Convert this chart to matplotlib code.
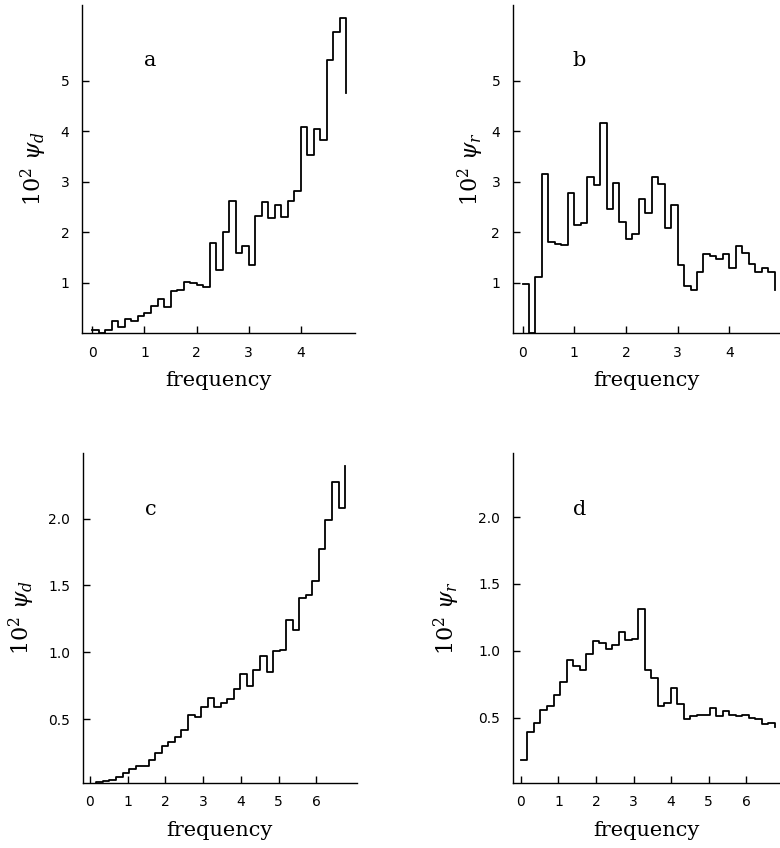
import numpy as np
import matplotlib
matplotlib.use("Agg")
import matplotlib.pyplot as plt

plt.rcParams['mathtext.fontset'] = 'dejavuserif'

# bin widths (39 bins in every panel)
width_ab = 0.125
width_cd = 0.1734

# panel a: 10^2 psi_d (last value = end of the closing vertical)
psi_d_a = [0.05, 0.0, 0.05, 0.23, 0.11, 0.28, 0.23, 0.34, 0.39, 0.53,
           0.68, 0.51, 0.83, 0.85, 1.01, 1.00, 0.95, 0.92, 1.78, 1.25,
           2.00, 2.61, 1.59, 1.72, 1.35, 2.32, 2.59, 2.28, 2.53, 2.29,
           2.61, 2.81, 4.08, 3.53, 4.05, 3.82, 5.41, 5.97, 6.25, 4.75]

# panel b: 10^2 psi_r
psi_r_b = [0.98, 0.0, 1.11, 3.16, 1.80, 1.76, 1.74, 2.77, 2.14, 2.18,
           3.10, 2.93, 4.16, 2.45, 2.98, 2.20, 1.87, 1.97, 2.66, 2.37,
           3.10, 2.95, 2.09, 2.53, 1.35, 0.93, 0.86, 1.20, 1.56, 1.53,
           1.47, 1.57, 1.28, 1.73, 1.59, 1.36, 1.21, 1.28, 1.20, 0.85]

# panel c: 10^2 psi_d
psi_d_c = [0.01, 0.03, 0.04, 0.05, 0.07, 0.10, 0.13, 0.15, 0.155, 0.20,
           0.25, 0.30, 0.33, 0.37, 0.42, 0.53, 0.52, 0.59, 0.66, 0.59,
           0.62, 0.65, 0.73, 0.84, 0.75, 0.87, 0.97, 0.85, 1.01, 1.02,
           1.24, 1.17, 1.41, 1.43, 1.53, 1.77, 1.99, 2.27, 2.08, 2.39]

# panel d: 10^2 psi_r
psi_r_d = [0.18, 0.39, 0.46, 0.56, 0.59, 0.67, 0.77, 0.93, 0.89, 0.86,
           0.98, 1.07, 1.06, 1.01, 1.04, 1.14, 1.08, 1.09, 1.31, 0.86,
           0.80, 0.59, 0.61, 0.72, 0.60, 0.49, 0.51, 0.52, 0.52, 0.57,
           0.51, 0.55, 0.52, 0.51, 0.52, 0.50, 0.49, 0.45, 0.46, 0.43]

xticks_ab = [0, 1, 2, 3, 4]
yticks_ab = [1, 2, 3, 4, 5]
xticks_cd = [0, 1, 2, 3, 4, 5, 6]
yticks_cd = [0.5, 1.0, 1.5, 2.0]

panels = [
    # rect, values, width, label, ylabel, ylabel x, xlim, ylim, xticks, yticks, fmt
    ([0.1051, 0.6073, 0.350, 0.3868], psi_d_a, width_ab, 'a', r'$10^2\ \psi_d$', -0.12,
     (-0.2, 5.04), (0, 6.5), xticks_ab, yticks_ab, '{:g}'),
    ([0.6573, 0.6073, 0.3427, 0.3868], psi_r_b, width_ab, 'b', r'$10^2\ \psi_r$', -0.10,
     (-0.19, 4.98), (0, 6.5), xticks_ab, yticks_ab, '{:g}'),
    ([0.1060, 0.0767, 0.3513, 0.3892], psi_d_c, width_cd, 'c', r'$10^2\ \psi_d$', -0.165,
     (-0.19, 7.07), (0.025, 2.49), xticks_cd, yticks_cd, '{:.1f}'),
    ([0.6573, 0.0767, 0.3427, 0.3892], psi_r_d, width_cd, 'd', r'$10^2\ \psi_r$', -0.19,
     (-0.22, 6.9), (0.012, 2.48), xticks_cd, yticks_cd, '{:.1f}'),
]

fig = plt.figure(figsize=(7.8, 8.48), dpi=100)

for rect, vals, w, lab, ylab, ylx, xl, yl, xt, yt, fmt in panels:
    ax = fig.add_axes(rect)
    edges = np.arange(len(vals)) * w
    ax.step(edges, vals, where='post', color='black', lw=1.3)
    ax.set_xlim(*xl)
    ax.set_ylim(*yl)
    ax.spines['top'].set_visible(False)
    ax.spines['right'].set_visible(False)
    ax.spines['left'].set_linewidth(1.0)
    ax.spines['bottom'].set_linewidth(1.0)
    ax.set_xticks(xt)
    ax.set_yticks(yt)
    ax.set_xticklabels([str(v) for v in xt])
    ax.set_yticklabels([fmt.format(v) for v in yt])
    ax.tick_params(direction='in', length=5, width=1, labelsize=10, pad=9)
    ax.set_xlabel('frequency', family='DejaVu Serif', fontsize=15, labelpad=8)
    ax.set_ylabel(ylab, fontsize=16)
    ax.yaxis.set_label_coords(ylx, 0.5)
    ax.text(0.25, 0.83, lab, transform=ax.transAxes, fontsize=15,
            family='DejaVu Serif', ha='center', va='center')

fig.savefig('out.png', dpi=100)
